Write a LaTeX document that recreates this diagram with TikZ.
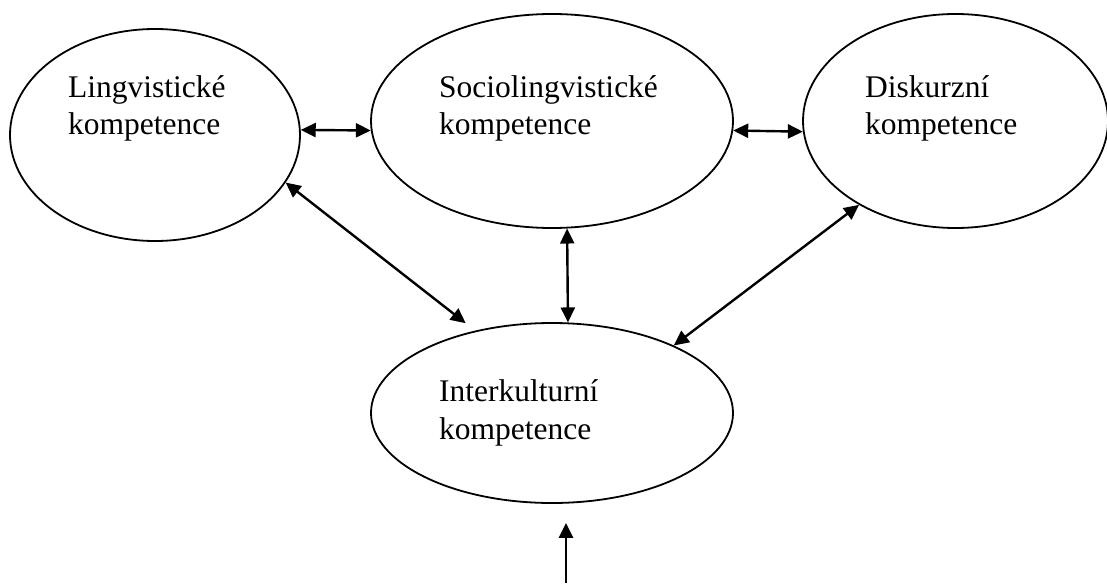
\documentclass[tikz,border=0pt]{standalone}
\usepackage{fontspec}
\setmainfont{Liberation Serif}
\usetikzlibrary{shapes.geometric,arrows.meta}
\tikzset{
  comp/.style={draw, ellipse, line width=1.8pt, inner sep=0pt},
  lbl/.style={anchor=base west, align=left, inner sep=0pt, font=\fontsize{31.5}{37.5}\selectfont},
  link/.style={line width=2.4pt, {Triangle[length=15pt,width=14pt]}-{Triangle[length=15pt,width=14pt]}},
  uplink/.style={line width=2.4pt, -{Triangle[length=15pt,width=14pt]}}
}
\begin{document}
\begin{tikzpicture}[x=1pt,y=-1pt]
\useasboundingbox[fill=white] (0,0) rectangle (1107,583);
\node[comp, minimum width=290pt, minimum height=212pt] (e1) at (155,135) {};
\node[comp, minimum width=362pt, minimum height=214pt] (e2) at (552,121) {};
\node[comp, minimum width=305pt, minimum height=214pt] (e3) at (955.5,121) {};
\node[comp, minimum width=362pt, minimum height=180pt] (e4) at (552,413) {};
\node[lbl] (t1) at (68,135) {Lingvistické\\kompetence};
\node[lbl] (t2) at (439,135) {Sociolingvistické\\kompetence};
\node[lbl] (t3) at (865,135) {Diskurzní\\kompetence};
\node[lbl] (t4) at (439,439) {Interkulturní\\kompetence};
\draw[link] (e1.2) -- (e2.183);
\draw[link] (e2.-3.5) -- (e3.184);
\draw[link, shorten >=12pt] (e1.-20) -- (e4.133);
\draw[link] (e2.-82) -- (e4.80.5);
\draw[link] (e3.221) -- (e4.29.5);
\coordinate (b) at (566,583);
\draw[uplink, shorten >=19pt] (b) -- (b |- e4.south);
\end{tikzpicture}
\end{document}
